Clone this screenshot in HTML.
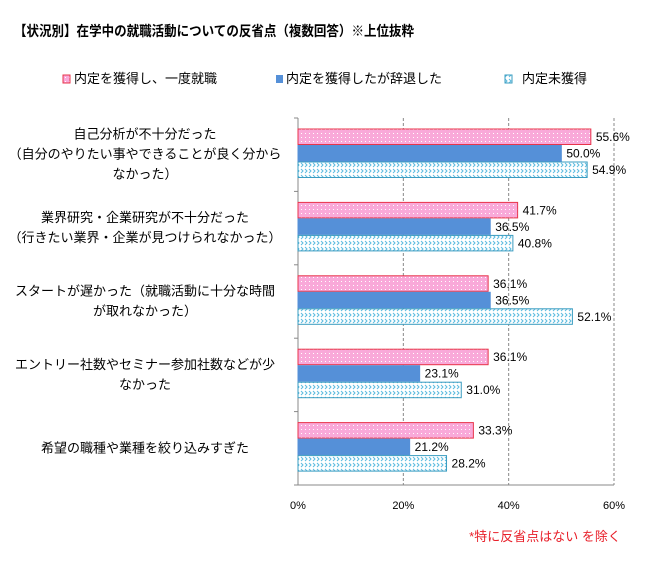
<!DOCTYPE html>
<html><head><meta charset="utf-8"><style>
body{margin:0;background:#fff;width:650px;height:560px;overflow:hidden;font-family:"Liberation Sans","Noto Sans CJK JP",sans-serif;}
svg text{font-family:"Liberation Sans","Noto Sans CJK JP",sans-serif;}
</style></head><body>
<svg width="650" height="560" xmlns="http://www.w3.org/2000/svg">
<defs>
<pattern id="pinkpat" width="4" height="4" patternUnits="userSpaceOnUse"><rect width="4" height="4" fill="#f9a9d9"/><rect x="1" y="1" width="1" height="1" fill="#fff"/></pattern>
<pattern id="cyanpat" width="8" height="6" patternUnits="userSpaceOnUse"><rect width="8" height="6" fill="#fff"/><path d="M1 1 L3 3 L1 5 M5 1 L7 3 L5 5" stroke="#5bbbe0" stroke-width="1" fill="none"/></pattern>
</defs>
<text x="14" y="36" font-size="14" font-weight="bold" fill="#000" textLength="400" lengthAdjust="spacingAndGlyphs">【状況別】在学中の就職活動についての反省点（複数回答）※上位抜粋</text>
<g>
<rect x="63" y="75" width="7" height="8" fill="url(#pinkpat)" stroke="#e8344a"/>
<text x="74" y="83" font-size="13">内定を獲得し、一度就職</text>
<rect x="276" y="75" width="7" height="8" fill="#5590d8"/>
<text x="286" y="83" font-size="13">内定を獲得したが辞退した</text>
<rect x="505" y="75" width="7" height="8" fill="url(#cyanpat)" stroke="#3a9cc0"/>
<text x="522" y="83" font-size="13">内定未獲得</text>
</g>
<g id="plot"></g>
<text x="545" y="541" font-size="13" fill="#e8202a" text-anchor="middle">*特に反省点はない を除く</text>
</svg>
<script>
const categories=[["自己分析が不十分だった","（自分のやりたい事やできることが良く分から","なかった）"],["業界研究・企業研究が不十分だった","（行きたい業界・企業が見つけられなかった）"],["スタートが遅かった（就職活動に十分な時間","が取れなかった）"],["エントリー社数やセミナー参加社数などが少","なかった"],["希望の職種や業種を絞り込みすぎた"]];
const seriesEmployed=[55.6,41.7,36.1,36.1,33.3];
const seriesDeclined=[50.0,36.5,36.5,23.1,21.2];
const seriesNone=[54.9,40.8,52.1,31.0,28.2];
const tickValues=[0,20,40,60];
const tickLabels=["0%","20%","40%","60%"];
const NS="http://www.w3.org/2000/svg";
const g=document.getElementById('plot');
const L=298,R=614,T=118,B=485;
const band=(B-T)/categories.length;
const x=v=>L+(v/60)*(R-L);
function mk(t,a,p){const e=document.createElementNS(NS,t);for(const k in a)e.setAttribute(k,a[k]);(p||g).appendChild(e);return e;}
tickValues.forEach((v,i)=>{
 if(v>0){const l=mk('line',{x1:x(v),x2:x(v),y1:T,y2:B,stroke:'#888','stroke-dasharray':'3,2'});
 
 }
 const t=mk('text',{x:x(v),y:509,'font-size':11,'text-anchor':'middle',fill:'#000'});t.textContent=tickLabels[i];
 
 
});
const ax=mk('line',{x1:L,x2:L,y1:T,y2:B,stroke:'#888'});


const ax2=mk('line',{x1:L,x2:R,y1:B,y2:B,stroke:'#888'});


for(let i=0;i<=categories.length;i++){const tk=mk('line',{x1:L-4,x2:L,y1:T+i*band,y2:T+i*band,stroke:'#888'});

}
const series=[[seriesEmployed,'url(#pinkpat)','#e8344a'],[seriesDeclined,'#5590d8','#5590d8'],[seriesNone,'url(#cyanpat)','#3a9cc0']];
categories.forEach((lines,i)=>{
 const top=T+i*band+11,bh=16.5;
 series.forEach((s,j)=>{
  const v=s[0][i],y=top+j*bh;
  const r=mk('rect',{x:L,y:y,width:x(v)-L,height:bh-1,fill:s[1],stroke:s[2],'stroke-width':1});
  
  
  const t=mk('text',{x:x(v)+5,y:y+12,'font-size':12,fill:'#000'});t.textContent=v.toFixed(1)+'%';
  
  
 });
 const cy=T+i*band+band/2+4,lh=20;
 lines.forEach((ln,k)=>{
  const t=mk('text',{x:145,y:cy+(k-(lines.length-1)/2)*lh,'font-size':13,'text-anchor':'middle',fill:'#000'});t.textContent=ln;
  
  
 });
});
</script>
</body></html>
